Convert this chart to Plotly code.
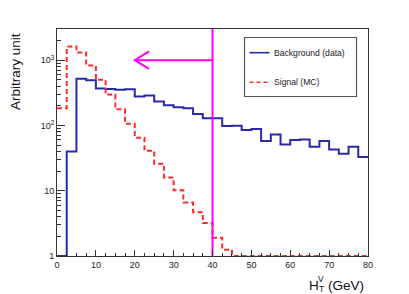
import math
import plotly.graph_objects as go

# ---------------- data ----------------
BIN_WIDTH = 2.5
X_MIN, X_MAX = 0.0, 80.0
N_BINS = 32
bin_edges = [X_MIN + i * BIN_WIDTH for i in range(N_BINS + 1)]

background = [1, 40, 518, 495, 370, 362, 351, 360, 277, 287,
              232, 204, 190, 184, 150, 129, 129, 98, 99, 85,
              88, 58, 73, 51, 60, 61, 47, 58, 43, 37,
              47, 33]
signal = [184, 1623, 1311, 829, 500, 297, 177, 106, 65, 41,
          26, 16, 10.2, 6.6, 4.7, 3.2, 1.9, 1.25, 1, 1,
          1, 1, 1, 1, 1, 1, 1, 1, 1, 1,
          1, 1]

CUT_VALUE = 40
ARROW_Y = 1000
ARROW_TIP_X = 20
ARROW_HEAD_X = 23.7
ARROW_HEAD_Y = [1361, 738]

Y_MIN, Y_MAX = 1, 3006
y_tick_vals = [1, 10, 100, 1000]
y_tick_text = ["1", "10", "10<sup>2</sup>", "10<sup>3</sup>"]
y_minor_vals = [m * 10 ** d for d in range(0, 4) for m in range(2, 10) if m * 10 ** d <= Y_MAX]
x_tick_vals = [0, 10, 20, 30, 40, 50, 60, 70, 80]

labels = ["Background (data)", "Signal (MC)"]

# ---------------- style / layout ----------------
W, H = 409, 294
ML, MR, MT, MB = 57, 41, 29, 38
PW, PH = W - ML - MR, H - MT - MB
FONT = "Liberation Sans, Arial, Helvetica, sans-serif"
BLUE = "#2a2aa8"
RED = "#ff2a2a"
MAGENTA = "#ff00ff"
FRAME = "#333333"
TITLE_SIZE = 13.5


def px_x(px):
    return (px - ML) / PW


def px_y(py):
    return (H - MB - py) / PH


fig = go.Figure()

fig.add_trace(go.Scatter(
    x=bin_edges, y=background + [background[-1]], mode="lines",
    line=dict(shape="hv", color=BLUE, width=2), name=labels[0],
    showlegend=False, hoverinfo="skip"))
fig.add_trace(go.Scatter(
    x=bin_edges, y=signal + [signal[-1]], mode="lines",
    line=dict(shape="hv", color=RED, width=2, dash="5px,3px"), name=labels[1],
    showlegend=False, hoverinfo="skip"))

# cut line and arrow
fig.add_trace(go.Scatter(
    x=[CUT_VALUE, CUT_VALUE], y=[Y_MIN, Y_MAX], mode="lines",
    line=dict(color=MAGENTA, width=2), showlegend=False, hoverinfo="skip"))
fig.add_trace(go.Scatter(
    x=[CUT_VALUE, ARROW_TIP_X], y=[ARROW_Y, ARROW_Y], mode="lines",
    line=dict(color=MAGENTA, width=2), showlegend=False, hoverinfo="skip"))
fig.add_trace(go.Scatter(
    x=[ARROW_HEAD_X, ARROW_TIP_X, ARROW_HEAD_X],
    y=[ARROW_HEAD_Y[0], ARROW_Y, ARROW_HEAD_Y[1]], mode="lines",
    line=dict(color=MAGENTA, width=2), showlegend=False, hoverinfo="skip"))

shapes = []
annotations = []

# manual legend box
LB = dict(x0=244.5, x1=356.5, y0=37.5, y1=96.5)
shapes.append(dict(type="rect", xref="paper", yref="paper",
                   x0=px_x(LB["x0"]), x1=px_x(LB["x1"]),
                   y0=px_y(LB["y1"]), y1=px_y(LB["y0"]),
                   line=dict(color="#555555", width=1.2), fillcolor="white", layer="above"))
legend_rows = [(52.7, BLUE, "solid"), (82.3, RED, "4px,3px")]
for (py, col, dash), lab in zip(legend_rows, labels):
    shapes.append(dict(type="line", xref="paper", yref="paper",
                       x0=px_x(249.5), x1=px_x(269.5), y0=px_y(py), y1=px_y(py),
                       line=dict(color=col, width=1.6, dash=dash), layer="above"))
    annotations.append(dict(text=lab, xref="paper", yref="paper",
                            x=px_x(272.5), y=px_y(py), xanchor="left", yanchor="middle",
                            showarrow=False, font=dict(family=FONT, size=8.6, color="#222222")))

# y title
annotations.append(dict(text="Arbitrary unit", xref="paper", yref="paper",
                        x=px_x(15.5), y=px_y(32), xanchor="center", yanchor="top",
                        textangle=-90, showarrow=False,
                        font=dict(family=FONT, size=TITLE_SIZE, color="#111111")))

# x title  H_T^V (GeV)
annotations.append(dict(text="H", xref="paper", yref="paper",
                        x=px_x(307.8), y=px_y(285), xanchor="left", yanchor="middle",
                        showarrow=False, font=dict(family=FONT, size=TITLE_SIZE, color="#111111")))
annotations.append(dict(text="V", xref="paper", yref="paper",
                        x=px_x(317.3), y=px_y(279), xanchor="left", yanchor="middle",
                        showarrow=False, font=dict(family=FONT, size=8.5, color="#111111")))
annotations.append(dict(text="T", xref="paper", yref="paper",
                        x=px_x(317.5), y=px_y(289), xanchor="left", yanchor="middle",
                        showarrow=False, font=dict(family=FONT, size=8.5, color="#111111")))
annotations.append(dict(text="(GeV)", xref="paper", yref="paper",
                        x=px_x(327), y=px_y(285), xanchor="left", yanchor="middle",
                        showarrow=False, font=dict(family=FONT, size=TITLE_SIZE, color="#111111")))

for a in annotations:
    a["borderpad"] = 0

fig.update_layout(
    width=W, height=H,
    margin=dict(l=ML, r=MR, t=MT, b=MB, pad=0),
    paper_bgcolor="white", plot_bgcolor="white",
    showlegend=False,
    shapes=shapes, annotations=annotations,
    xaxis=dict(range=[X_MIN, X_MAX], tickmode="array", tickvals=x_tick_vals,
               ticks="inside", ticklen=6, tickwidth=1, tickcolor=FRAME,
               minor=dict(dtick=BIN_WIDTH, tick0=0, ticks="inside", ticklen=3,
                          tickwidth=1, tickcolor=FRAME, showgrid=False),
               showline=True, linecolor=FRAME, linewidth=1, mirror=True,
               showgrid=False, zeroline=False,
               tickfont=dict(family=FONT, size=9, color="#222222")),
    yaxis=dict(type="log", range=[math.log10(Y_MIN), math.log10(Y_MAX)],
               tickmode="array", tickvals=y_tick_vals, ticktext=y_tick_text,
               ticks="inside", ticklen=8, tickwidth=1, tickcolor=FRAME,
               minor=dict(tickmode="array", tickvals=y_minor_vals, ticks="inside",
                          ticklen=4, tickwidth=1, tickcolor=FRAME, showgrid=False),
               showline=True, linecolor=FRAME, linewidth=1, mirror=True,
               showgrid=False, zeroline=False,
               tickfont=dict(family=FONT, size=9, color="#222222")),
)

fig.write_html("out.html", config={"displayModeBar": False},
               post_script="document.body.style.margin='0px';")
